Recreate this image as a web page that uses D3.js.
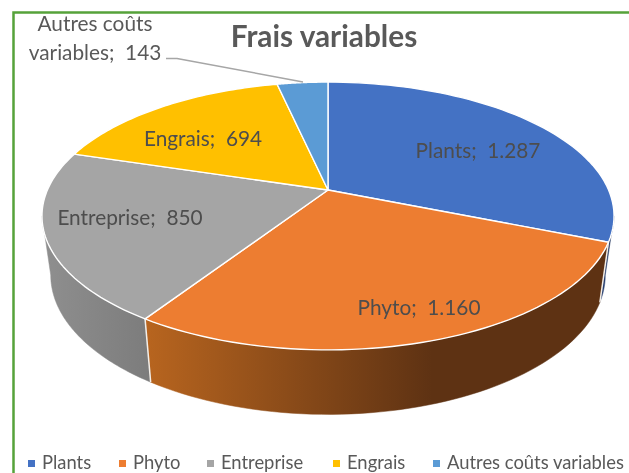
<!DOCTYPE html>
<html><head><meta charset="utf-8">
<script src="https://cdnjs.cloudflare.com/ajax/libs/d3/7.8.5/d3.min.js"></script>
<style>html,body{margin:0;padding:0;background:#fff}svg{display:block;filter:blur(0.35px)}</style></head>
<body><svg id="c" width="629" height="473"></svg>
<script>
const categories = ["Plants","Phyto","Entreprise","Engrais","Autres coûts variables"];
const values = [1287,1160,850,694,143];
const valueLabels = ["1.287","1.160","850","694","143"];
const colors = ["#4472c4","#ed7d31","#a5a5a5","#ffc000","#5b9bd5"];
const wallStops = [
  [[0,"#2a4378"],[1,"#1c2f55"]],
  [[0,"#b8651f"],[0.62,"#5e3213"],[1,"#5e3213"]],
  [[0,"#8f8f8f"],[1,"#7c7c7c"]],
  [[0,"#997300"],[1,"#997300"]],
  [[0,"#355d80"],[1,"#355d80"]]
];
const title = "Frais variables";

const svg = d3.select("#c");
const defs = svg.append("defs");

// perspective projection of the pie disc
const cx = 328, persp = -0.194;
const topDisc = {R:280.6, a:92, b:190};
const botDisc = {R:272, a:86, b:248};
const project = (d, th) => {
  const u = Math.sin(th), v = -Math.cos(th), w = 1 + persp*v;
  return [cx + d.R*u/w, (d.a*v + d.b)/w];
};
const arcPts = (d, a0, a1) => d3.range(0, 61).map(i => project(d, a0 + (a1-a0)*i/60));
const line = d3.line();

const pie = d3.pie().sort(null).value(d => d)(values);
const tangentR = Math.acos(persp), tangentL = 2*Math.PI - Math.acos(persp);

// side wall
pie.forEach((s,i) => {
  const p = Math.max(s.startAngle, tangentR), q = Math.min(s.endAngle, tangentL);
  if (q <= p) return;
  const T = arcPts(topDisc,p,q), B = arcPts(botDisc,p,q).reverse();
  const id = "w"+i;
  const xs = T.concat(B).map(d=>d[0]);
  const g = defs.append("linearGradient").attr("id",id).attr("gradientUnits","userSpaceOnUse")
    .attr("x1",d3.min(xs)).attr("x2",d3.max(xs)).attr("y1",0).attr("y2",0);
  wallStops[i].forEach(st => g.append("stop").attr("offset",st[0]).attr("stop-color",st[1]));
  svg.append("path").attr("d",line(T.concat(B))+"Z").attr("fill",`url(#${id})`)
    .attr("stroke",`url(#${id})`).attr("stroke-width",0.5);
  if (s.startAngle >= tangentR) {
    svg.append("line").attr("x1",T[0][0]).attr("y1",T[0][1]).attr("x2",B[B.length-1][0]).attr("y2",B[B.length-1][1])
      .attr("stroke","#f4efe9").attr("stroke-width",1.5);
  }
});

// top face
pie.forEach((s,i) => {
  const c = [cx, topDisc.b];
  svg.append("path").attr("d", line([c].concat(arcPts(topDisc,s.startAngle,s.endAngle)))+"Z")
    .attr("fill",colors[i]).attr("stroke","#fff").attr("stroke-width",1.4).attr("stroke-linejoin","round");
});

// frame
svg.append("path").attr("d","M13.5,473V12.5H629").attr("fill","none").attr("stroke","#56a23a").attr("stroke-width",2.5);

// title
const font = "Lato, 'Open Sans', sans-serif";
svg.append("text").attr("x",324).attr("y",47).attr("text-anchor","middle")
  .attr("font-family",font).attr("font-weight",700).attr("font-size",29.8).attr("fill","#595959").text(title);

// data labels
const labelAt = [[478,158],[419,315],[130,225],[203,146]];
labelAt.forEach((p,i) => {
  svg.append("text").attr("x",p[0]).attr("y",p[1]).attr("text-anchor","middle")
    .style("white-space","pre").attr("font-family",font).attr("font-size",20.8).attr("fill","#4d4d4d")
    .text(`${categories[i]};  ${valueLabels[i]}`);
});
svg.append("text").attr("x",95).attr("y",31).attr("text-anchor","middle")
  .attr("font-family",font).attr("font-size",20.8).attr("fill","#595959").text("Autres coûts");
svg.append("text").attr("x",95).attr("y",60).attr("text-anchor","middle").style("white-space","pre")
  .attr("font-family",font).attr("font-size",20.8).attr("fill","#595959").text(`variables;  ${valueLabels[4]}`);
svg.append("path").attr("d","M166,58.5H177L303,82").attr("fill","none").attr("stroke","#a6a6a6").attr("stroke-width",1.5);

// legend
const legendSwatchX = [28,119,207,333,433];
const legendTextX = [42,133,221,347,447];
categories.forEach((c,i) => {
  svg.append("rect").attr("x",legendSwatchX[i]).attr("y",460).attr("width",7).attr("height",7).attr("fill",colors[i]);
  svg.append("text").attr("x",legendTextX[i]).attr("y",469).attr("font-family",font).attr("font-size",18.4).attr("fill","#595959").text(c);
});
</script></body></html>
